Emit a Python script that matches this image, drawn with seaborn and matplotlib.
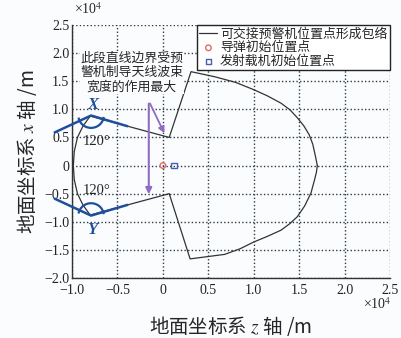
import numpy as np
import pandas as pd
import matplotlib
matplotlib.use("Agg")
import matplotlib.pyplot as plt
import seaborn as sns
from matplotlib.patches import Arc
from matplotlib.ticker import FuncFormatter, MultipleLocator

sns.set_style("white")
plt.rcParams['font.family'] = ['Noto Sans CJK SC', 'DejaVu Sans']
plt.rcParams['mathtext.fontset'] = 'stix'

# ---- data (metres) ----
# upper part of the envelope: right apex -> top corner -> near notch -> X
env_z_upper = [17000, 16900, 16800, 16500, 16100, 15500, 14800, 14000, 13000, 11500, 10000, 8000, 5700, 3100, 700, -8000]
env_x_upper = [0, 800, 1600, 3800, 5500, 7100, 8500, 9900, 11100, 12400, 13500, 14800, 15800, 16700, 5000, 8800]
# left arc (from X down to Y)
arc_z = [-8000, -8800, -9400, -9750, -9850, -9750, -9400, -8800, -8000]
arc_x = [8800, 7000, 5000, 2500, 0, -2500, -5000, -7000, -8800]
# lower part: Y -> near notch -> bottom corner -> right apex
env_z_lower = [-8000, 700, 3000, 6800, 8500, 10000, 11500, 13000, 14000, 14800, 15600, 16300, 16700, 16900, 17000]
env_x_lower = [-8800, -5000, -16600, -15800, -14800, -13600, -12600, -11500, -10300, -9100, -7200, -4900, -2500, -1200, 0]

missile_z, missile_x = [0], [0]
carrier_z, carrier_x = [1200], [0]

bx_z = [-11900, -7900, -3900]
bx_x = [5900, 8900, 7000]
by_z = [-11900, -7900, -3900]
by_x = [-5900, -8900, -7000]

env = pd.DataFrame({"z": env_z_upper + arc_z[1:] + env_z_lower[1:],
                    "x": env_x_upper + arc_x[1:] + env_x_lower[1:]})

fig = plt.figure(figsize=(4.01, 3.38), dpi=100)
fig.patch.set_facecolor("#fbfcfe")
ax = fig.add_axes([72/401, 1-278/338, (390-72)/401, (278-25)/338])
ax.set_facecolor("#fbfcfe")

sns.lineplot(data=env, x="z", y="x", sort=False, estimator=None, color="#333333",
             lw=0.9, ax=ax, label="可交接预警机位置点形成包络")
sns.scatterplot(x=missile_z, y=missile_x, marker="o", s=16, facecolor="none",
                edgecolor="#e06a6a", linewidth=1.0, ax=ax, label="导弹初始位置点")
sns.scatterplot(x=carrier_z, y=carrier_x, marker="s", s=16, facecolor="none",
                edgecolor="#4a5db0", linewidth=1.0, ax=ax, label="发射载机初始位置点")

blue = "#1f4f9c"
ax.plot(bx_z, bx_x, color=blue, lw=1.8, clip_on=False, zorder=4)
ax.plot(by_z, by_x, color=blue, lw=1.8, clip_on=False, zorder=4)
ax.add_patch(Arc((bx_z[1], bx_x[1]), 2800, 4400, theta1=195, theta2=350, color=blue, lw=1.6, zorder=4))
ax.add_patch(Arc((by_z[1], by_x[1]), 2800, 4400, theta1=10, theta2=165, color=blue, lw=1.6, zorder=4))

serif = ['Liberation Serif', 'DejaVu Serif']
ax.text(-7700, 10700, "X", color=blue, fontsize=12, fontstyle="italic", fontweight="bold",
        family=serif, ha="center", va="center")
ax.text(-7800, -11500, "Y", color=blue, fontsize=12, fontstyle="italic", fontweight="bold",
        family=serif, ha="center", va="center")
ax.text(-7300, 4300, "120°", fontsize=10.5, family=serif, ha="center", va="center")
ax.text(-7300, -4500, "120°", fontsize=10.5, family=serif, ha="center", va="center")

ax.text(-3400, 16500, "此段直线边界受预\n警机制导天线波束\n宽度的作用最大", fontsize=9.3,
        ha="center", va="center", linespacing=1.15,
        bbox=dict(facecolor="#fbfcfe", edgecolor="none", pad=0.5), zorder=5)
purple = "#8f6cc4"
ax.annotate("", xy=(-1550, -5600), xytext=(-1550, 11500),
            arrowprops=dict(arrowstyle="-|>", color=purple, lw=1.5, mutation_scale=9), zorder=5)
ax.annotate("", xy=(300, 5300), xytext=(-1550, 11500),
            arrowprops=dict(arrowstyle="-|>", color=purple, lw=1.3, mutation_scale=9), zorder=5)

ax.set_xlim(-10000, 25000)
ax.set_ylim(-20000, 25000)
ax.xaxis.set_major_locator(MultipleLocator(5000))
ax.yaxis.set_major_locator(MultipleLocator(5000))

def fmt(v, pos):
    v = v / 1e4
    if abs(v) < 1e-9:
        return "0"
    return f"{v:.1f}".replace("-", "\u2212")

ax.xaxis.set_major_formatter(FuncFormatter(fmt))
ax.yaxis.set_major_formatter(FuncFormatter(fmt))
for lab in ax.get_xticklabels() + ax.get_yticklabels():
    lab.set_family(serif)
    lab.set_fontsize(10)
ax.tick_params(direction="in", length=4, width=0.8, colors="#222222")
ax.tick_params(axis="x", pad=4.5)
ax.tick_params(axis="y", pad=2)

ax.grid(True, color="#2b3b45", linestyle=(0, (1, 1.6)), lw=1.0)
for s in ["top", "right"]:
    ax.spines[s].set_visible(False)
for s in ["left", "bottom"]:
    ax.spines[s].set_color("#333333")
    ax.spines[s].set_linewidth(1.0)

ax.set_xlabel("地面坐标系 $z$ 轴 /m", fontsize=14, labelpad=12)
ax.set_ylabel("地面坐标系 $x$ 轴 /m", fontsize=14, labelpad=4)

fig.text(74/401, 1-9/338, "×10$^4$", fontsize=10, family=serif, ha="left", va="center")
fig.text(392/401, 1-304/338, "×10$^4$", fontsize=10, family=serif, ha="right", va="center")

leg = ax.legend(loc="upper right", bbox_to_anchor=(1.0, 1.0), borderaxespad=0,
                fontsize=9.3, frameon=True, fancybox=False, handlelength=1.4,
                handletextpad=0.2, borderpad=0.2, labelspacing=0.05)
leg.get_frame().set_edgecolor("#222222")
leg.get_frame().set_linewidth(1.0)
leg.get_frame().set_facecolor("white")
leg.get_frame().set_alpha(1)

fig.savefig("out.png", dpi=100, facecolor=fig.get_facecolor())
